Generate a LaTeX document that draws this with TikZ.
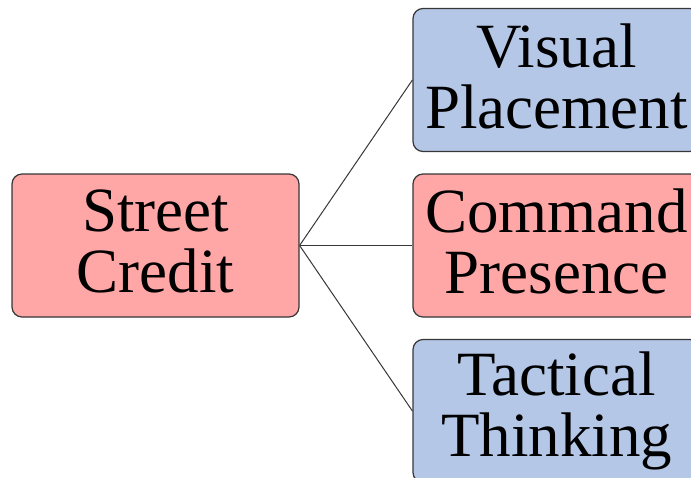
\documentclass[tikz,border=0pt]{standalone}
\usepackage{fontspec}
\setmainfont{Liberation Serif}
\definecolor{boxred}{RGB}{255,166,166}
\definecolor{boxblue}{RGB}{180,199,231}
\definecolor{edgegray}{RGB}{55,55,55}
% extra depth under the last line lifts the text block a little
\newcommand{\liftpad}{\rule[-8pt]{0pt}{8pt}}
\begin{document}
\begin{tikzpicture}[x=1pt,y=-1pt,
  card/.style={draw=edgegray, line width=1.2pt, rounded corners=10pt,
    minimum width=287pt, minimum height=143pt, inner sep=0pt,
    align=center, font=\fontsize{63}{61}\selectfont},
  redcard/.style={card, fill=boxred},
  bluecard/.style={card, fill=boxblue},
  link/.style={draw=edgegray, line width=1pt}]
  \useasboundingbox (0,0) rectangle (691,477);
  \node[redcard]  (street)  at (155.5,245.5) {Street\\Credit\liftpad};
  \node[bluecard] (visual)  at (556.5,80)    {Visual\\Placement\liftpad};
  \node[redcard]  (command) at (556.5,245.5) {Command\\Presence\liftpad};
  \node[bluecard] (tactic)  at (556.5,411)   {Tactical\\Thinking\liftpad};
  \draw[link] (street.east) -- (visual.west);
  \draw[link] (street.east) -- (command.west);
  \draw[link] (street.east) -- (tactic.west);
\end{tikzpicture}
\end{document}
